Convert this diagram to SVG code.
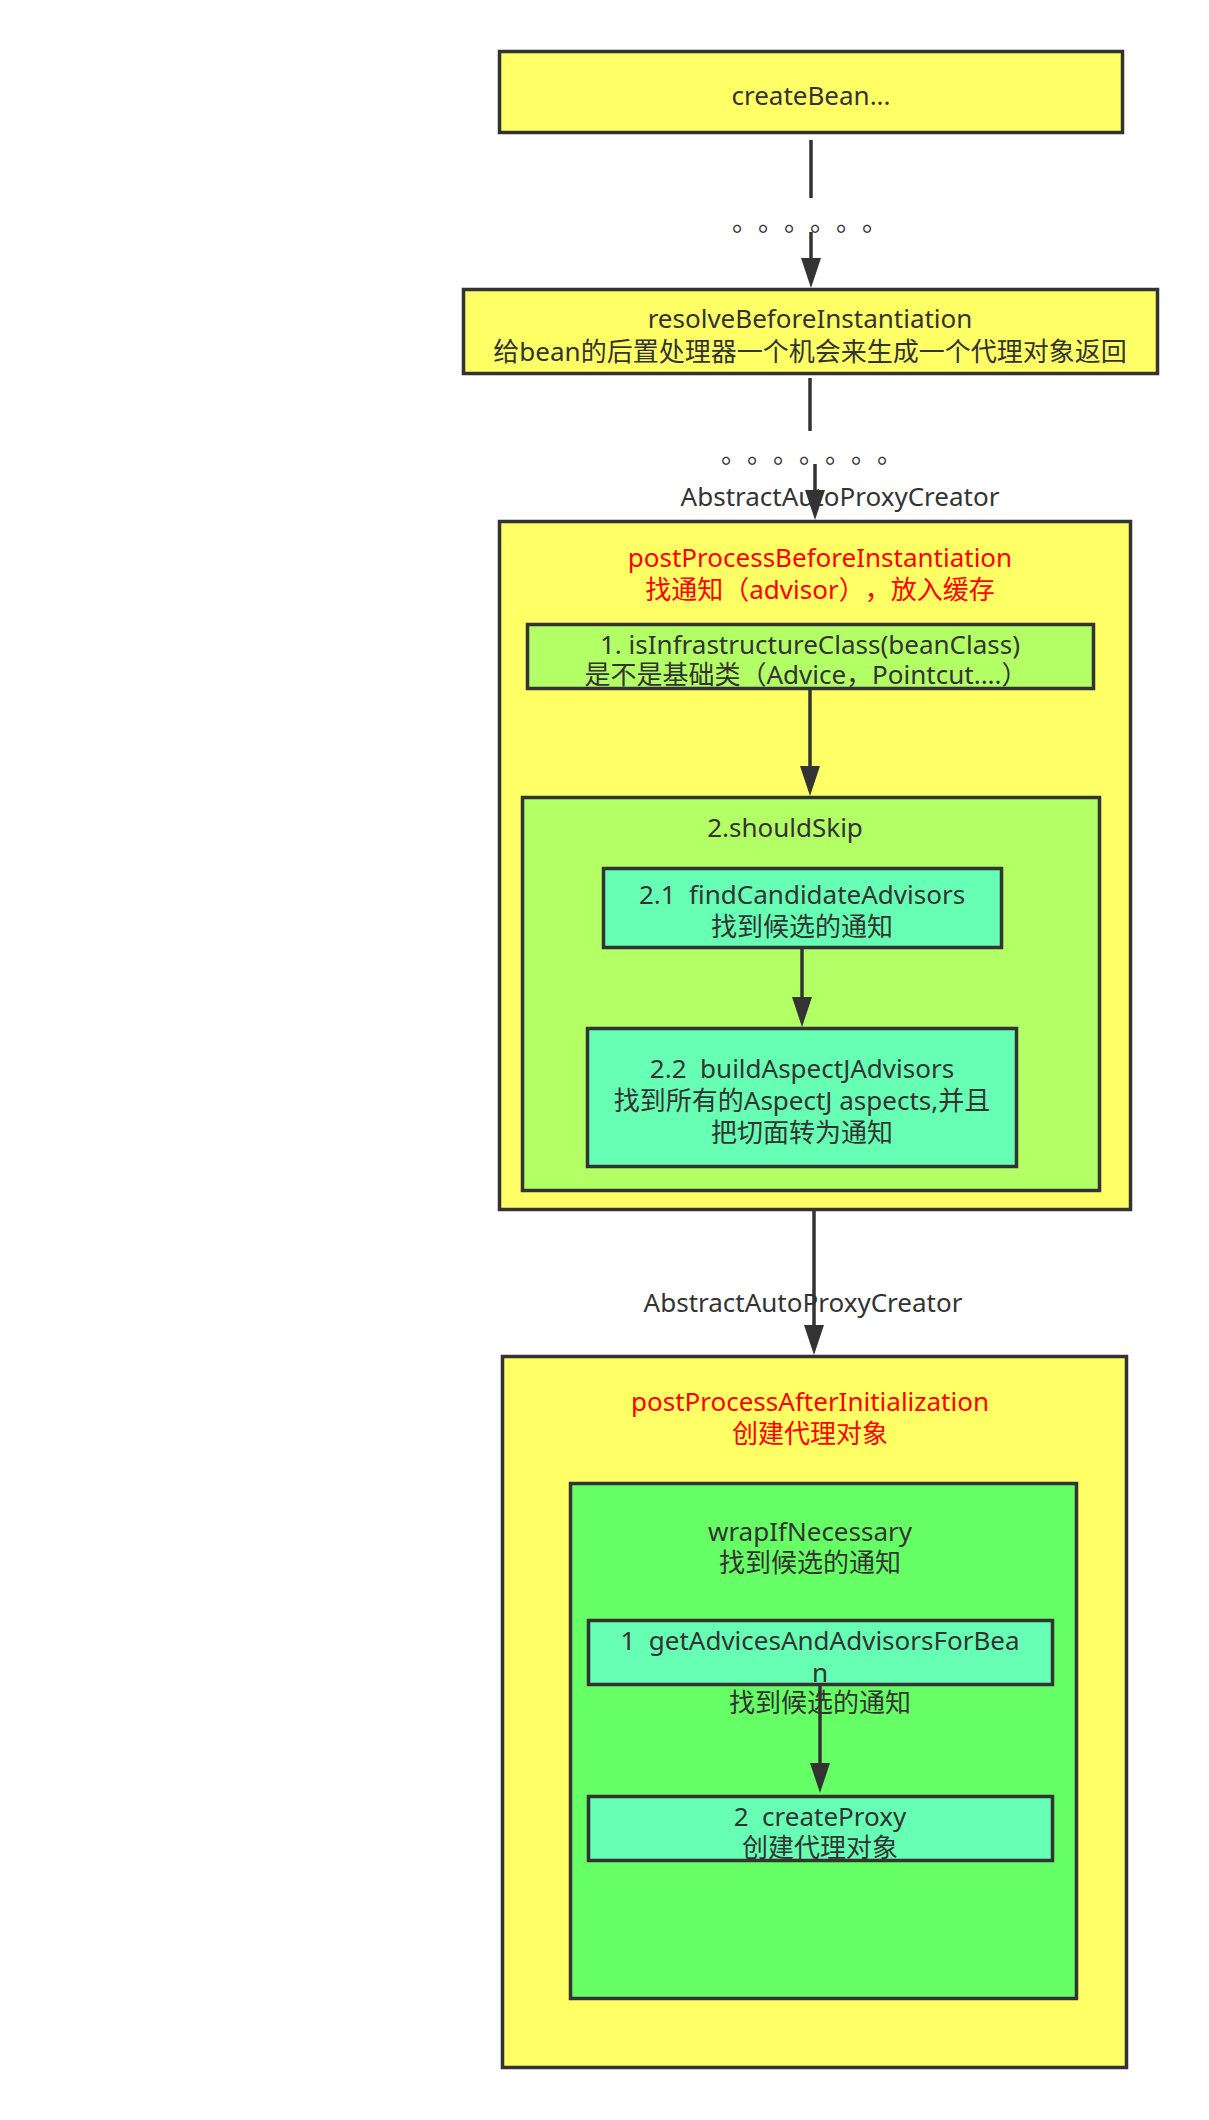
<svg xmlns="http://www.w3.org/2000/svg" width="1209" height="2120" viewBox="0 0 1209 2120">
<style>
  text { font-family: "Noto Sans", "Noto Sans CJK SC", sans-serif; font-size: 26px; fill: #333333; text-anchor: middle; text-spacing-trim: space-all; }
  text.red { fill: #FF0000; }
  text.dots { font-family: "Noto Sans CJK SC", sans-serif; text-anchor: start; }
  .box { stroke: #333333; stroke-width: 3.5; }
  .yellow { fill: #FFFF66; }
  .lime { fill: #B3FF66; }
  .mint { fill: #66FFB3; }
  .green { fill: #66FF66; }
  .edge { fill: none; stroke: #333333; stroke-width: 3.5; }
</style>
<defs>
  <marker id="arrow" markerUnits="userSpaceOnUse" viewBox="0 0 30 20" refX="0" refY="10" markerWidth="30" markerHeight="20" orient="auto">
    <path d="M0,0 L30,10 L0,20 Z" fill="#333333"/>
  </marker>
</defs>
<rect width="1209" height="2120" fill="#FFFFFF"/>

<g id="createBean">
  <rect class="box yellow" x="499.5" y="51.5" width="623" height="81"/>
  <text x="811" y="105">createBean...</text>
</g>

<g id="resolveBeforeInstantiation">
  <rect class="box yellow" x="463.5" y="289.5" width="694" height="84"/>
  <text x="810" y="328">resolveBeforeInstantiation</text>
  <text x="810" y="361">给bean的后置处理器一个机会来生成一个代理对象返回</text>
</g>

<g id="postProcessBeforeInstantiation">
  <rect class="box yellow" x="499.5" y="521.5" width="631" height="688"/>
  <text class="red" x="820" y="567">postProcessBeforeInstantiation</text>
  <text class="red" x="820" y="599">找通知（advisor），放入缓存</text>
</g>

<g id="isInfrastructureClass">
  <rect class="box lime" x="527.5" y="624.5" width="566" height="64"/>
  <text x="810" y="654">1. isInfrastructureClass(beanClass)</text>
  <text x="806" y="684">是不是基础类（Advice，Pointcut....）</text>
</g>

<g id="shouldSkip">
  <rect class="box lime" x="522.5" y="797.5" width="577" height="393"/>
  <text x="785" y="837">2.shouldSkip</text>
</g>

<g id="findCandidateAdvisors">
  <rect class="box mint" x="603.5" y="868.5" width="398" height="79"/>
  <text x="802" y="904" xml:space="preserve">2.1  findCandidateAdvisors</text>
  <text x="802" y="936">找到候选的通知</text>
</g>

<g id="buildAspectJAdvisors">
  <rect class="box mint" x="587.5" y="1028.5" width="429" height="138"/>
  <text x="802" y="1078" xml:space="preserve">2.2  buildAspectJAdvisors</text>
  <text x="802" y="1110">找到所有的AspectJ aspects,并且</text>
  <text x="802" y="1142">把切面转为通知</text>
</g>

<g id="postProcessAfterInitialization">
  <rect class="box yellow" x="502.5" y="1356.5" width="624" height="711"/>
  <text class="red" x="810" y="1411">postProcessAfterInitialization</text>
  <text class="red" x="810" y="1443">创建代理对象</text>
</g>

<g id="wrapIfNecessary">
  <rect class="box green" x="570.5" y="1483.5" width="506" height="515"/>
  <text x="810" y="1541">wrapIfNecessary</text>
  <text x="810" y="1572">找到候选的通知</text>
</g>

<g id="getAdvicesAndAdvisorsForBean">
  <rect class="box mint" x="588.5" y="1620.5" width="464" height="64"/>
  <text x="820" y="1650" xml:space="preserve">1  getAdvicesAndAdvisorsForBea</text>
  <text x="820" y="1682">n</text>
  <text x="820" y="1712">找到候选的通知</text>
</g>

<g id="createProxy">
  <rect class="box mint" x="588.5" y="1796.5" width="464" height="64"/>
  <text x="820" y="1826" xml:space="preserve">2  createProxy</text>
  <text x="820" y="1857">创建代理对象</text>
</g>

<g id="connectors">
  <text x="840" y="506">AbstractAutoProxyCreator</text>
  <text x="803" y="1312">AbstractAutoProxyCreator</text>

  <path class="edge" d="M811,140 V198"/>
  <text class="dots" x="732 758 784 810 836 862" y="231">。。。。。。</text>
  <path class="edge" d="M811,232 V258" marker-end="url(#arrow)"/>

  <path class="edge" d="M810,378 V431"/>
  <text class="dots" x="721 747 773 799 825 851 877" y="463">。。。。。。。</text>
  <path class="edge" d="M815,464 V490" marker-end="url(#arrow)"/>

  <path class="edge" d="M810,690 V766" marker-end="url(#arrow)"/>
  <path class="edge" d="M802,949 V997" marker-end="url(#arrow)"/>
  <path class="edge" d="M814,1211 V1325" marker-end="url(#arrow)"/>
  <path class="edge" d="M820,1686 V1763" marker-end="url(#arrow)"/>
</g>
</svg>
